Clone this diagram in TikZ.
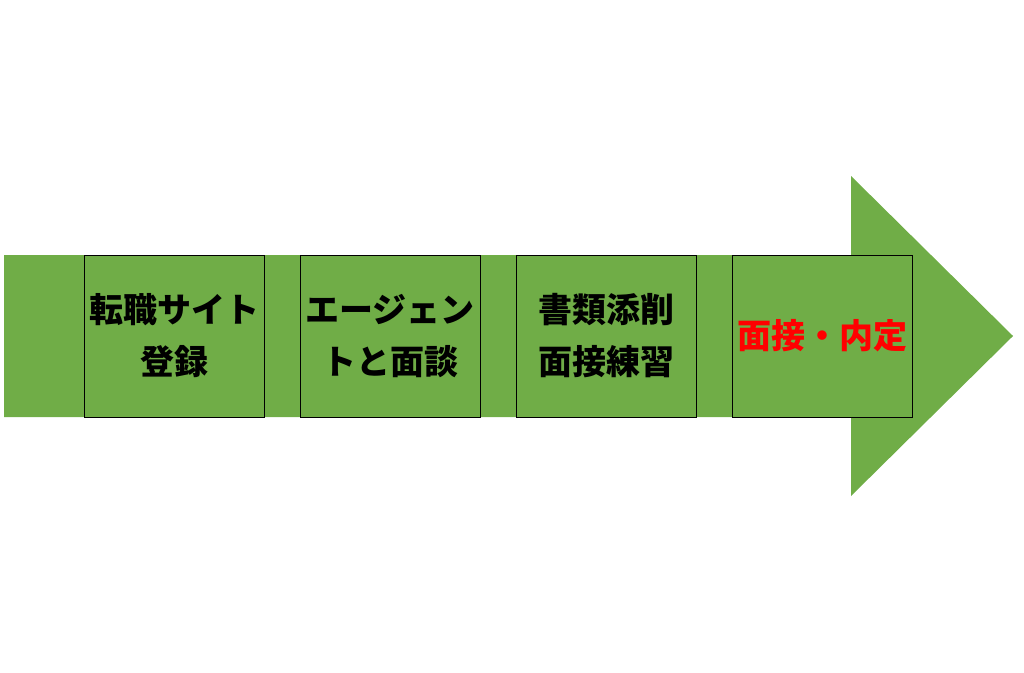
\documentclass[tikz,border=0pt]{standalone}
\usepackage{fontspec}
\newfontfamily\cjk{Noto Sans CJK JP}
\definecolor{stepgreen}{HTML}{70AD47}
\definecolor{stepred}{HTML}{FF0000}

\begin{document}
\begin{tikzpicture}[x=1pt,y=-1pt,
  stepbox/.style={draw=black, line width=1pt, fill=stepgreen,
    minimum width=180pt, minimum height=162pt, inner sep=0pt,
    align=center, font=\cjk\bfseries\fontsize{34}{52}\selectfont}]

\newcommand\Y{336};

  \useasboundingbox (0,0) rectangle (1024,672);

  %% arrow
  \fill[stepgreen] (4,255) -- (851,255) -- (851,176) -- (1013,\Y)
  -- (851,496) -- (851,417) -- (4,417) -- cycle;

  %% steps
  \node[stepbox] (entry)  at (174.5,\Y) {転職サイト\\登録};
  \node[stepbox] (agent)  at (390,\Y)   {エージェン\\トと面談};
  \node[stepbox] (papers) at (606.5,\Y) {書類添削\\面接練習};
  \node[stepbox, text=stepred] (offer) at (822,\Y) {面接・内定};

\end{tikzpicture}
\end{document}
